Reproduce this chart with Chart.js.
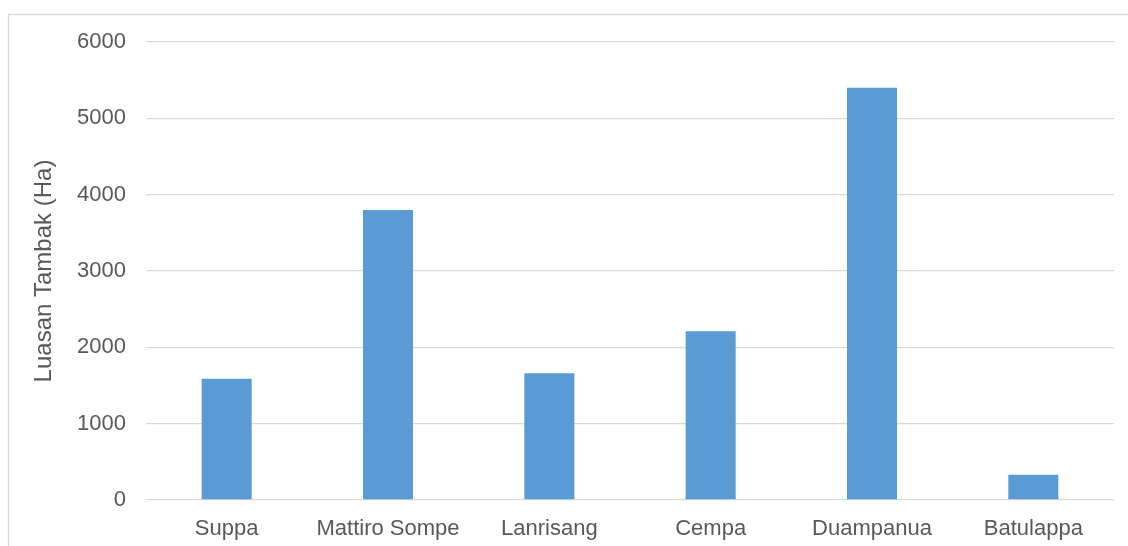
<!DOCTYPE html>
<html>
<head>
<meta charset="utf-8">
<script src="https://cdn.jsdelivr.net/npm/chart.js@4"></script>
<style>
  html, body { margin: 0; padding: 0; background: #fff; }
  #wrap { position: relative; width: 1128px; height: 546px; }
</style>
</head>
<body>
<div id="wrap">
  <canvas id="tambakChart" width="1128" height="546"></canvas>
</div>
<script>
// luasan tambak per kecamatan
const kecamatan = ['Suppa', 'Mattiro Sompe', 'Lanrisang', 'Cempa', 'Duampanua', 'Batulappa'];
const luasTambak = [1590, 3800, 1660, 2210, 5400, 330];
const yTicks = [0, 1000, 2000, 3000, 4000, 5000, 6000];

const textColor = '#595959';
const gridColor = '#d9d9d9';
const barColor = '#5b9bd5';

// garis tepi area grafik
const chartBorder = {
  id: 'chartBorder',
  beforeDraw(chart) {
    const ctx = chart.ctx;
    ctx.save();
    ctx.fillStyle = '#ffffff';
    ctx.fillRect(0, 0, chart.width, chart.height);
    ctx.strokeStyle = gridColor;
    ctx.lineWidth = 1.3;
    ctx.strokeRect(8.5, 14.5, 1300, 700);
    ctx.restore();
  },
};

new Chart(document.getElementById('tambakChart'), {
  type: 'bar',
  data: {
    labels: kecamatan,
    datasets: [
      {
        label: 'Luasan Tambak (Ha)',
        data: luasTambak,
        backgroundColor: barColor,
        borderWidth: 0,
        categoryPercentage: 1,
        barPercentage: 0.31,
      },
    ],
  },
  options: {
    responsive: false,
    animation: false,
    layout: {
      padding: { left: 30, right: 14, top: 42, bottom: 0 },
    },
    plugins: {
      legend: { display: false },
      tooltip: { enabled: false },
    },
    scales: {
      x: {
        grid: { display: false },
        border: { display: false },
        ticks: {
          color: textColor,
          font: { family: 'Liberation Sans, Arial, sans-serif', size: 22 },
          padding: 8,
          maxRotation: 0,
          autoSkip: false,
        },
        afterFit(scale) {
          scale.height = 46;
        },
      },
      y: {
        min: 0,
        max: 6000,
        afterBuildTicks(scale) {
          scale.ticks = yTicks.map((v) => ({ value: v }));
        },
        grid: {
          color: gridColor,
          lineWidth: 1.3,
          drawTicks: false,
        },
        border: { display: false },
        ticks: {
          color: textColor,
          font: { family: 'Liberation Sans, Arial, sans-serif', size: 22 },
          padding: 20,
          callback: (v) => String(v),
        },
        title: {
          display: true,
          text: 'Luasan Tambak (Ha)',
          color: textColor,
          font: { family: 'Liberation Sans, Arial, sans-serif', size: 24 },
          padding: 0,
        },
        afterFit(scale) {
          scale.width = 116;
        },
      },
    },
  },
  plugins: [chartBorder],
});
</script>
</body>
</html>
